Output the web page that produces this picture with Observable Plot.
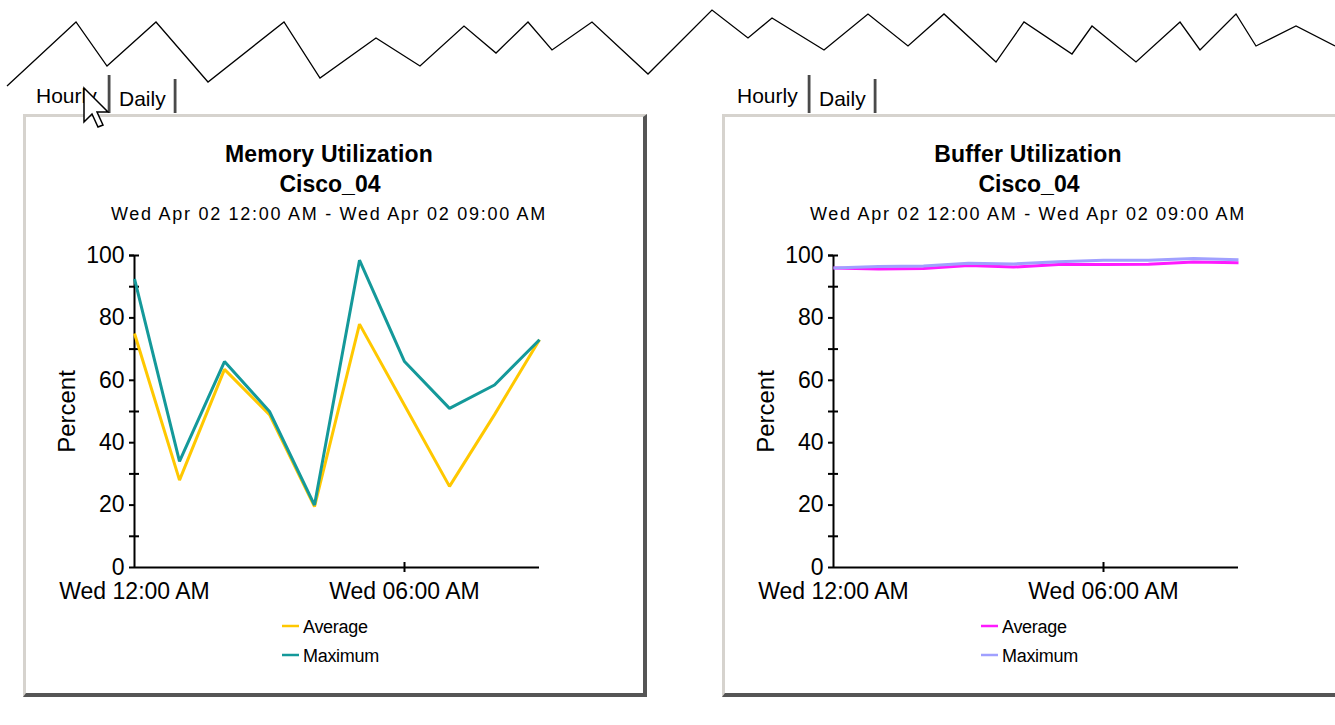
<!DOCTYPE html>
<html><head><meta charset="utf-8">
<script src="https://cdn.jsdelivr.net/npm/d3@7"></script>
<script src="https://cdn.jsdelivr.net/npm/@observablehq/plot@0.6"></script>
<style>
html,body{margin:0;padding:0;background:#fff;}
body{width:1335px;height:725px;overflow:hidden;position:relative;font-family:"Liberation Sans",Arial,sans-serif;}
.panel{position:absolute;top:114px;width:617px;height:576px;border-top:3px solid #d6d3ce;border-left:3px solid #d6d3ce;border-right:4px solid #555;border-bottom:4px solid #555;background:#fff;}
.chart{position:absolute;top:230px;width:624px;height:390px;}
.chart svg{max-width:none !important;}
#overlay{position:absolute;left:0;top:0;pointer-events:none;}
</style></head>
<body>
<div class="panel" style="left:23px"></div>
<div class="panel" style="left:722px"></div>
<div class="chart" id="c1" style="left:23px"></div>
<div class="chart" id="c2" style="left:722px"></div>
<svg id="overlay" width="1335" height="725" xmlns="http://www.w3.org/2000/svg"></svg>
<script>
// ---- data ----
const hours = [0, 1, 2, 3, 4, 5, 6, 7, 8, 9];
const memAvg = [75, 28, 63.5, 49, 19.5, 78, 52, 26, 49, 73];
const memMax = [92.5, 34, 66, 50, 20, 98.5, 66, 51, 58.5, 73];
const bufAvg = [96.0, 95.7, 95.8, 96.8, 96.3, 97.1, 97.1, 97.2, 97.9, 97.7];
const bufMax = [96.0, 96.5, 96.6, 97.5, 97.3, 98.0, 98.5, 98.5, 99.0, 98.6];
const seriesNames = ["Average", "Maximum"];
const memColors = ["#ffc800", "#14999a"];
const bufColors = ["#ff1aff", "#a0a0ff"];
const xTicks = [0, 6];
const xTickLabels = ["Wed 12:00 AM", "Wed 06:00 AM"];
const yTicks = [0, 20, 40, 60, 80, 100];
const yMinorTicks = [10, 30, 50, 70, 90, 100];
const yLabel = "Percent";
const titles = ["Memory Utilization", "Buffer Utilization"];
const subtitle = "Cisco_04";
const dateRange = "Wed Apr 02 12:00 AM - Wed Apr 02 09:00 AM";
const tabs = ["Hourly", "Daily"];
const tornEdge = [[7,86],[76,22],[107,66],[156,22],[208,82],[284,22],[320,78],[376,38],[420,66],[464,26],[496,53],[528,22],[552,50],[592,22],[648,74],[712,10],[748,38],[772,18],[824,50],[868,14],[908,46],[944,14],[996,62],[1024,22],[1072,54],[1092,26],[1136,62],[1180,22],[1200,50],[1236,14],[1256,46],[1296,26],[1335,46]];

const FONT = '"Liberation Sans", Arial, sans-serif';
const W = 624, H = 390, ML = 111, MR = 108, MT = 25, MB = 53;
const innerW = W - ML - MR, innerH = H - MT - MB;

function chart(avg, max, colors) {
  const rows = hours.flatMap((h, i) => [
    {h, v: avg[i], s: seriesNames[0]},
    {h, v: max[i], s: seriesNames[1]}
  ]);
  return Plot.plot({
    width: W, height: H,
    marginLeft: ML, marginRight: MR, marginTop: MT, marginBottom: MB,
    style: {fontFamily: FONT, fontSize: "23px", color: "#000", background: "transparent", overflow: "visible", maxWidth: "none"},
    x: {domain: [0, 9]},
    y: {domain: [0, 100]},
    color: {type: "ordinal", domain: seriesNames, range: colors},
    marks: [
      Plot.ruleY([0], {stroke: "#000", strokeWidth: 2}),
      Plot.ruleX([0], {stroke: "#000", strokeWidth: 2}),
      Plot.axisY({ticks: yTicks, tickSize: 5, tickPadding: 5, label: null, strokeWidth: 2}),
      Plot.tickY(yMinorTicks, {y: d => d, insetLeft: -5, insetRight: innerW - 5, stroke: "#000", strokeWidth: 2}),
      Plot.tickX([xTicks[1]], {x: d => d, insetTop: innerH - 5, insetBottom: -5, stroke: "#000", strokeWidth: 2}),
      Plot.axisX({ticks: xTicks, tickSize: 0, tickPadding: 15, label: null,
        tickFormat: d => xTickLabels[xTicks.indexOf(d)]}),
      Plot.text([yLabel], {text: d => d, frameAnchor: "left", textAnchor: "middle", rotate: -90, dx: -67, fontSize: 24}),
      Plot.line(rows.filter(d => d.s === seriesNames[0]), {x: "h", y: "v", stroke: "s", strokeWidth: 3, strokeLinejoin: "miter", strokeLinecap: "butt"}),
      Plot.line(rows.filter(d => d.s === seriesNames[1]), {x: "h", y: "v", stroke: "s", strokeWidth: 3, strokeLinejoin: "miter", strokeLinecap: "butt"})
    ]
  });
}
document.getElementById("c1").appendChild(chart(memAvg, memMax, memColors));
document.getElementById("c2").appendChild(chart(bufAvg, bufMax, bufColors));

// ---- overlay: torn edge, tabs, titles, legends, cursor ----
const svg = d3.select("#overlay");
svg.append("polyline")
  .attr("points", tornEdge.map(p => p.join(",")).join(" "))
  .attr("fill", "none").attr("stroke", "#000").attr("stroke-width", 1.3);

const panelOffsets = [0, 699];
panelOffsets.forEach((off, pi) => {
  // tabs
  svg.append("text").attr("x", 36 + off + (pi ? 2 : 0)).attr("y", 102.5).attr("font-family", FONT).attr("font-size", 21).text(tabs[0]);
  svg.append("text").attr("x", 119 + off + (pi ? 1 : 0)).attr("y", 106).attr("font-family", FONT).attr("font-size", 21).text(tabs[1]);
  [[108, 75], [174, 79]].forEach(([x, y0]) => {
    svg.append("rect").attr("x", x + off + (pi ? 1 : 0) - 1).attr("y", y0).attr("width", 1).attr("height", 113 - y0).attr("fill", "#c8c8c8");
    svg.append("rect").attr("x", x + off + (pi ? 1 : 0)).attr("y", y0).attr("width", 2.5).attr("height", 113 - y0).attr("fill", "#4a4a4a");
  });
  // titles
  const cx = 329 + off;
  svg.append("text").attr("x", cx).attr("y", 162).attr("text-anchor", "middle").attr("font-family", FONT)
    .attr("font-size", 23).attr("font-weight", "bold").attr("letter-spacing", "0.2").text(titles[pi]);
  svg.append("text").attr("x", cx + 1).attr("y", 192).attr("text-anchor", "middle").attr("font-family", FONT)
    .attr("font-size", 23).attr("font-weight", "bold").text(subtitle);
  svg.append("text").attr("x", cx).attr("y", 220).attr("text-anchor", "middle").attr("font-family", FONT)
    .attr("font-size", 18).attr("letter-spacing", "1.72").text(dateRange);
  // legend
  const cols = pi ? bufColors : memColors;
  seriesNames.forEach((name, i) => {
    const y = 626 + i * 29;
    svg.append("line").attr("x1", 282 + off).attr("x2", 299 + off).attr("y1", y).attr("y2", y)
      .attr("stroke", cols[i]).attr("stroke-width", 2.5);
    svg.append("text").attr("x", 303 + off).attr("y", y + 7).attr("font-family", FONT).attr("font-size", 18)
      .attr("letter-spacing", "-0.3").text(name);
  });
});
// mouse cursor
const cur = [[0,0],[0,34],[8,26],[14,39],[19,37],[13,24],[24,24]];
svg.append("polygon")
  .attr("points", cur.map(([x, y]) => `${84 + x},${88 + y}`).join(" "))
  .attr("fill", "#fff").attr("stroke", "#000").attr("stroke-width", 1.5).attr("stroke-linejoin", "miter");
</script>
</body></html>
